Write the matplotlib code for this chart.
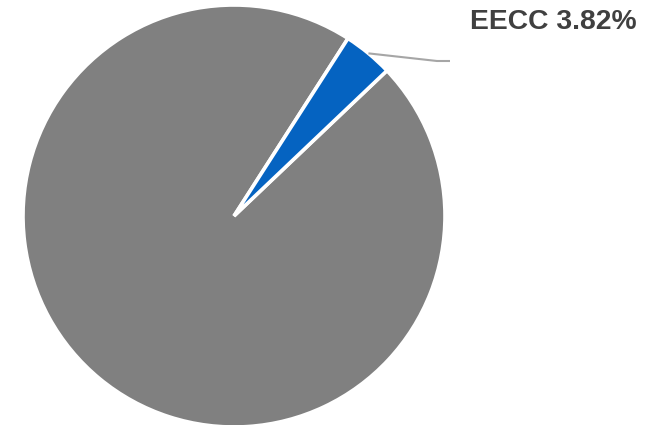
import numpy as np
import matplotlib
matplotlib.use("Agg")
import matplotlib.pyplot as plt

labels = ["Others", "EECC"]
shares = [96.18, 3.82]
colors = ["#808080", "#0563C1"]

W, H = 654, 425
fig = plt.figure(figsize=(W / 100, H / 100), dpi=100)
ax = fig.add_axes([0, 0, 1, 1])
ax.set_aspect("equal")

cx, cy, r = 234, H - 216, 211
start = 57.3
wedges, _ = ax.pie(shares, colors=colors, startangle=start, counterclock=True,
                   center=(cx, cy), radius=r, frame=True,
                   wedgeprops=dict(edgecolor="white", linewidth=2.6))
ax.set_xlim(0, W)
ax.set_ylim(0, H)
ax.axis("off")

# leader line from the middle of the EECC wedge to its label
w = wedges[1]
mid = np.deg2rad((w.theta1 + w.theta2) / 2)
x0, y0 = cx + r * np.cos(mid), cy + r * np.sin(mid)
ax.plot([x0, 437, 450], [y0, H - 61, H - 61], color="#a6a6a6", lw=1.5,
        solid_capstyle="butt", zorder=3)

ax.text(470, H - 29, f"{labels[1]} {shares[1]:.2f}%", fontsize=20.3,
        fontweight="bold", family="Liberation Sans", color="#404040",
        ha="left", va="baseline")

fig.savefig("out.png", dpi=100)
